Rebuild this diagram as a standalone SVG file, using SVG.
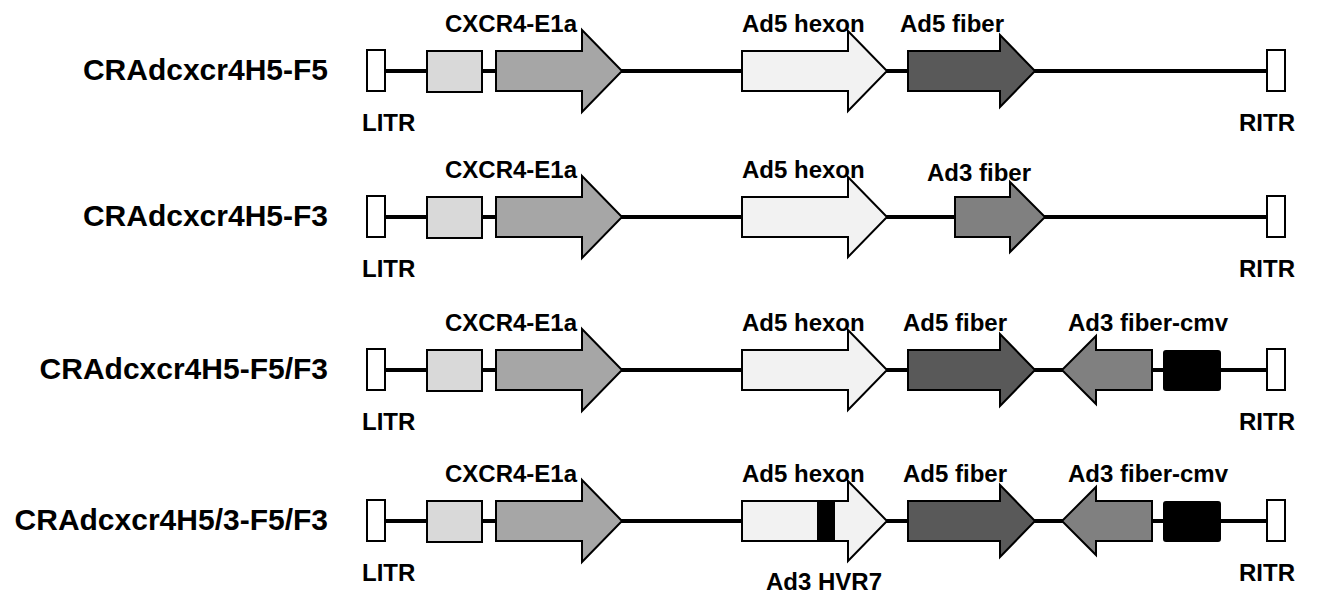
<svg xmlns="http://www.w3.org/2000/svg" width="1321" height="601" viewBox="0 0 1321 601">
<style>
text{font-family:"Liberation Sans",Arial,sans-serif;font-weight:bold;fill:#000}
.t{font-size:30px;text-anchor:end}
.l{font-size:24px}
.itr{fill:#fff;stroke:#000;stroke-width:2}
.bb{stroke:#000;stroke-width:4;fill:none}
.box{fill:#d9d9d9;stroke:#000;stroke-width:2}
.e1a{fill:#a6a6a6;stroke:#000;stroke-width:2;stroke-linejoin:miter}
.hex{fill:#f2f2f2;stroke:#000;stroke-width:2}
.f5{fill:#595959;stroke:#000;stroke-width:2}
.f3{fill:#808080;stroke:#000;stroke-width:2}
.cmv{fill:#000;stroke:#000;stroke-width:2}
</style>
<defs>
<polygon id="aE1a" points="496,-20 582,-20 582,-41 622,0 582,41 582,20 496,20"/>
<polygon id="aHex" points="742,-20 848,-20 848,-40 887,0 848,40 848,20 742,20"/>
<polygon id="aF5" points="908,-20 1000,-20 1000,-36 1035,0 1000,36 1000,20 908,20"/>
<polygon id="aF3" points="955,-20 1010,-20 1010,-35 1045,0 1010,35 1010,20 955,20"/>
<polygon id="aCmv" points="1152,-20 1096,-20 1096,-34 1062,0 1096,34 1096,20 1152,20"/>
</defs>

<g id="connectors">
<line class="bb" x1="385" y1="71" x2="1267" y2="71"/>
<line class="bb" x1="385" y1="217" x2="1267" y2="217"/>
<line class="bb" x1="385" y1="370" x2="1267" y2="370"/>
<line class="bb" x1="385" y1="521" x2="1267" y2="521"/>
</g>

<!-- Row 1 -->
<g id="row1" transform="translate(0,71)">
<text class="t" x="328" y="9">CRAdcxcr4H5-F5</text>
<g id="r1-litr"><rect class="itr" x="367" y="-21" width="18" height="41"/><text class="l" x="362" y="60">LITR</text></g>
<g id="r1-box"><rect class="box" x="427" y="-20" width="55" height="41"/></g>
<g id="r1-e1a"><use href="#aE1a" class="e1a"/><text class="l" x="445" y="-39">CXCR4-E1a</text></g>
<g id="r1-hexon"><use href="#aHex" class="hex"/><text class="l" x="742" y="-39">Ad5 hexon</text></g>
<g id="r1-fiber"><use href="#aF5" class="f5"/><text class="l" x="900" y="-39">Ad5 fiber</text></g>
<g id="r1-ritr"><rect class="itr" x="1267" y="-21" width="18" height="41"/><text class="l" x="1239" y="60">RITR</text></g>
</g>

<!-- Row 2 -->
<g id="row2" transform="translate(0,217)">
<text class="t" x="328" y="9">CRAdcxcr4H5-F3</text>
<g id="r2-litr"><rect class="itr" x="367" y="-21" width="18" height="41"/><text class="l" x="362" y="60">LITR</text></g>
<g id="r2-box"><rect class="box" x="427" y="-20" width="55" height="41"/></g>
<g id="r2-e1a"><use href="#aE1a" class="e1a"/><text class="l" x="445" y="-39">CXCR4-E1a</text></g>
<g id="r2-hexon"><use href="#aHex" class="hex"/><text class="l" x="742" y="-39">Ad5 hexon</text></g>
<g id="r2-fiber"><use href="#aF3" class="f3"/><text class="l" x="927" y="-36">Ad3 fiber</text></g>
<g id="r2-ritr"><rect class="itr" x="1267" y="-21" width="18" height="41"/><text class="l" x="1239" y="60">RITR</text></g>
</g>

<!-- Row 3 -->
<g id="row3" transform="translate(0,370)">
<text class="t" x="328" y="9">CRAdcxcr4H5-F5/F3</text>
<g id="r3-litr"><rect class="itr" x="367" y="-21" width="18" height="41"/><text class="l" x="362" y="60">LITR</text></g>
<g id="r3-box"><rect class="box" x="427" y="-20" width="55" height="41"/></g>
<g id="r3-e1a"><use href="#aE1a" class="e1a"/><text class="l" x="445" y="-39">CXCR4-E1a</text></g>
<g id="r3-hexon"><use href="#aHex" class="hex"/><text class="l" x="742" y="-39">Ad5 hexon</text></g>
<g id="r3-fiber"><use href="#aF5" class="f5"/><text class="l" x="903" y="-39">Ad5 fiber</text></g>
<g id="r3-fibercmv"><use href="#aCmv" class="f3"/><rect class="cmv" x="1164" y="-19" width="56" height="39" rx="2"/><text class="l" x="1068" y="-39">Ad3 fiber-cmv</text></g>
<g id="r3-ritr"><rect class="itr" x="1267" y="-21" width="18" height="41"/><text class="l" x="1239" y="60">RITR</text></g>
</g>

<!-- Row 4 -->
<g id="row4" transform="translate(0,521)">
<text class="t" x="328" y="9">CRAdcxcr4H5/3-F5/F3</text>
<g id="r4-litr"><rect class="itr" x="367" y="-21" width="18" height="41"/><text class="l" x="362" y="60">LITR</text></g>
<g id="r4-box"><rect class="box" x="427" y="-20" width="55" height="41"/></g>
<g id="r4-e1a"><use href="#aE1a" class="e1a"/><text class="l" x="445" y="-39">CXCR4-E1a</text></g>
<g id="r4-hexon"><use href="#aHex" class="hex"/><rect x="817" y="-20" width="18" height="40" fill="#000"/><text class="l" x="742" y="-39">Ad5 hexon</text><text class="l" x="766" y="69">Ad3 HVR7</text></g>
<g id="r4-fiber"><use href="#aF5" class="f5"/><text class="l" x="903" y="-39">Ad5 fiber</text></g>
<g id="r4-fibercmv"><use href="#aCmv" class="f3"/><rect class="cmv" x="1164" y="-19" width="56" height="39" rx="2"/><text class="l" x="1068" y="-39">Ad3 fiber-cmv</text></g>
<g id="r4-ritr"><rect class="itr" x="1267" y="-21" width="18" height="41"/><text class="l" x="1239" y="60">RITR</text></g>
</g>
</svg>
